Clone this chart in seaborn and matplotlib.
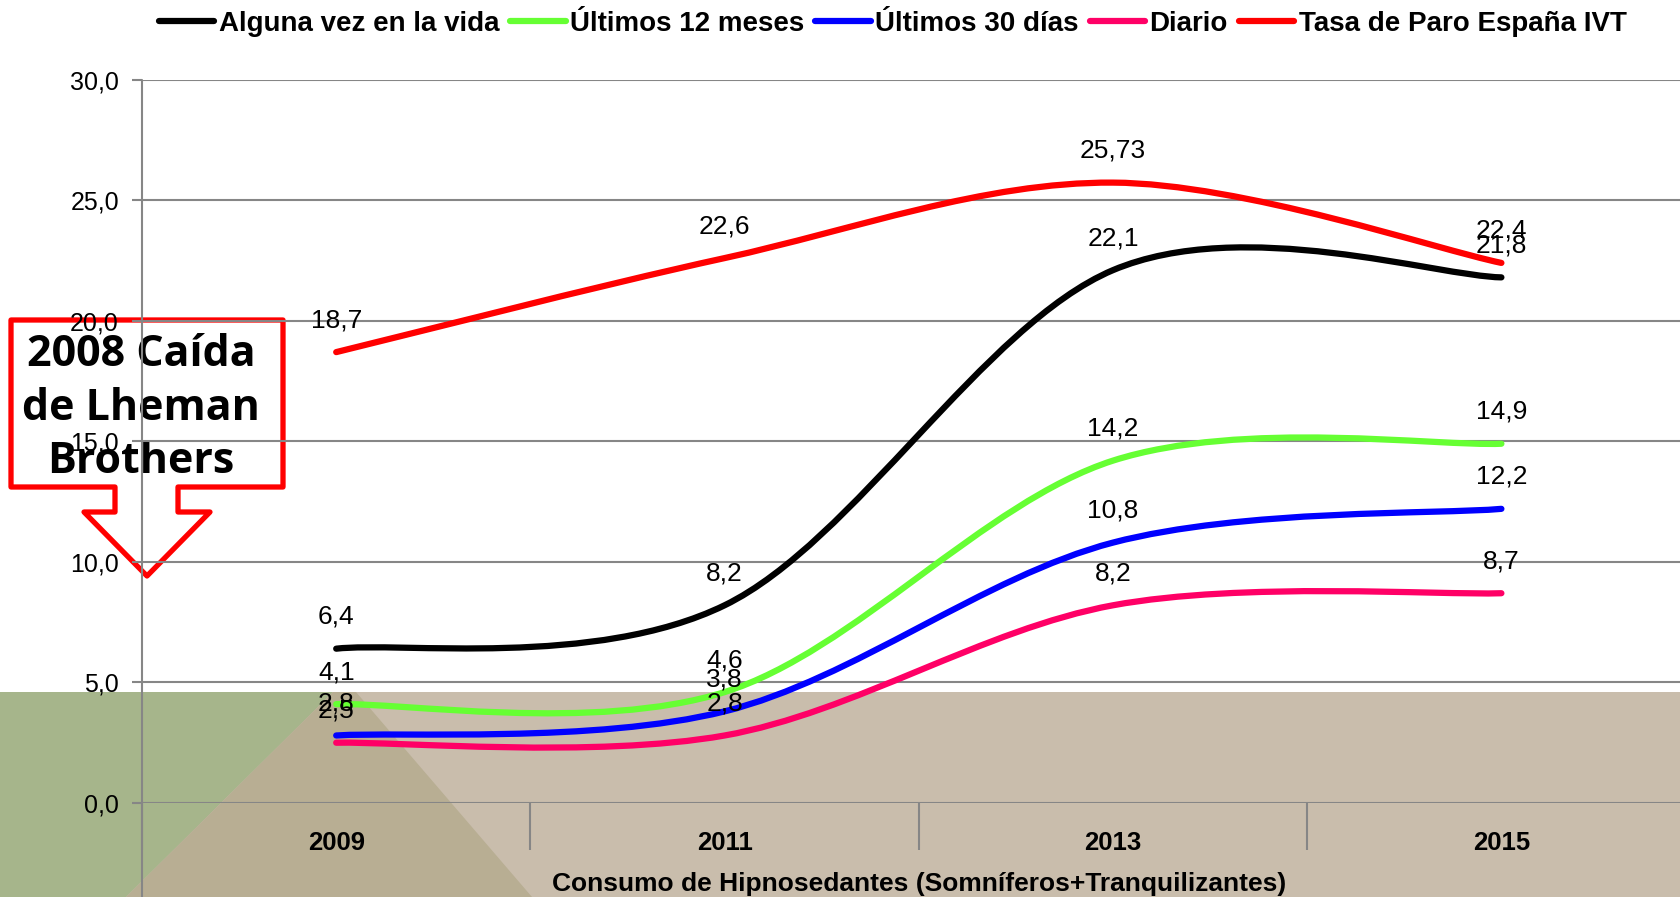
import numpy as np
import pandas as pd
import matplotlib
matplotlib.use("Agg")
import matplotlib.pyplot as plt
import seaborn as sns
from matplotlib.path import Path
from matplotlib.patches import PathPatch, Polygon
from matplotlib.lines import Line2D

# data
years = ["2009", "2011", "2013", "2015"]
alguna_vez = [6.4, 8.2, 22.1, 21.8]
ultimos_12 = [4.1, 4.6, 14.2, 14.9]
ultimos_30 = [2.8, 3.8, 10.8, 12.2]
diario = [2.5, 2.8, 8.2, 8.7]
tasa_paro = [18.7, 22.6, 25.73, 22.4]

series_names = ["Alguna vez en la vida", "Últimos 12 meses", "Últimos 30 días",
                "Diario", "Tasa de Paro España IVT"]
series_values = [alguna_vez, ultimos_12, ultimos_30, diario, tasa_paro]
series_colors = ["#000000", "#66FF33", "#0000FF", "#FF0066", "#FF0000"]

y_ticks = [0, 5, 10, 15, 20, 25, 30]
y_tick_labels = ["0,0", "5,0", "10,0", "15,0", "20,0", "25,0", "30,0"]
x_title = "Consumo de Hipnosedantes (Somníferos+Tranquilizantes)"
callout_text = "2008 Caída\nde Lheman\nBrothers"

W, H = 1681, 897
GRID = "#868686"


def smooth_path(xs, ys):
    """Excel-like smoothed line: cubic Bezier through the points."""
    verts = [(xs[0], ys[0])]
    codes = [Path.MOVETO]
    n = len(xs)
    for i in range(n - 1):
        i0 = max(i - 1, 0)
        i3 = min(i + 2, n - 1)
        c1 = (xs[i] + (xs[i + 1] - xs[i0]) / 6, ys[i] + (ys[i + 1] - ys[i0]) / 6)
        c2 = (xs[i + 1] - (xs[i3] - xs[i]) / 6, ys[i + 1] - (ys[i3] - ys[i]) / 6)
        verts += [c1, c2, (xs[i + 1], ys[i + 1])]
        codes += [Path.CURVE4] * 3
    return Path(verts, codes)


sns.set_theme(style="white", rc={"text.color": "black", "axes.labelcolor": "black",
                                 "xtick.color": "black", "ytick.color": "black"})
plt.rcParams["font.family"] = ["Liberation Sans", "DejaVu Sans"]

fig = plt.figure(figsize=(W / 100, H / 100), dpi=100)

# background layer in figure pixels (band, callout, y axis line)
bg = fig.add_axes([0, 0, 1, 1], zorder=0)
bg.set_xlim(0, W)
bg.set_ylim(H, 0)
bg.axis("off")
bg.add_patch(Polygon([(0, 692), (W, 692), (W, H), (0, H)], closed=True,
                     facecolor="#C9BDAC", edgecolor="none", zorder=1))
bg.add_patch(Polygon([(0, 692), (333, 692), (126, H), (0, H)], closed=True,
                     facecolor="#A6B58B", edgecolor="none", zorder=1))
bg.add_patch(Polygon([(333, 692), (356, 692), (532, H), (126, H)], closed=True,
                     facecolor="#B8AE93", edgecolor="none", zorder=1))

callout = [(11, 320), (283, 320), (283, 487), (178, 487), (178, 512), (210, 512),
           (147, 576), (84, 512), (115, 512), (115, 487), (11, 487)]
bg.add_patch(Polygon(callout, closed=True, facecolor="white", edgecolor="#FF0000",
                     linewidth=3.8, joinstyle="round", zorder=2))
bg.text(141, 408, callout_text, ha="center", va="center", fontsize=31,
        fontweight="bold", family=["Open Sans", "DejaVu Sans"],
        linespacing=1.33, color="black", zorder=3)
bg.plot([142, 142], [80, H], color=GRID, linewidth=1.5, zorder=4)

# main chart
ax = fig.add_axes([142 / W, 94 / H, 1553.6 / W, 0.8064], zorder=1)
ax.set_facecolor("none")
pos = np.arange(len(years))
ax.set_xlim(-0.5, len(years) - 0.5)
ax.set_ylim(0, 30)

for name, vals, col in zip(series_names, series_values, series_colors):
    ax.add_patch(PathPatch(smooth_path(pos, vals), facecolor="none", edgecolor=col,
                           linewidth=4.5, capstyle="round", joinstyle="round",
                           zorder=3))
    for x, v in zip(pos, vals):
        ax.annotate(str(v).replace(".", ","), (x, v), xytext=(0, 32),
                    textcoords="offset pixels", ha="center", va="center",
                    fontsize=19, color="black", zorder=5)

ax.set_yticks(y_ticks)
ax.set_yticklabels(y_tick_labels, fontsize=18)
ax.yaxis.grid(True, color=GRID, linewidth=1.5)
ax.tick_params(axis="y", length=7.2, width=1.5, color=GRID, labelcolor="black",
               pad=9.4, left=True)

ax.set_xticks(pos)
ax.set_xticklabels(years, fontsize=18.5, fontweight="bold")
ax.set_xticks(np.arange(len(years) + 1) - 0.5, minor=True)
ax.tick_params(axis="x", which="major", length=0, pad=20, labelcolor="black")
ax.tick_params(axis="x", which="minor", length=34, width=1.5, color=GRID,
               bottom=True)
ax.set_xlabel(x_title, fontsize=19, fontweight="bold", labelpad=12)

sns.despine(ax=ax, left=True, top=True, right=True, bottom=True)

handles = [Line2D([0], [0], color=c, linewidth=4.5, solid_capstyle="round")
           for c in series_colors]
fig.legend(handles, series_names, loc="center", bbox_to_anchor=(0.531, 1 - 24 / H),
           ncol=5, frameon=False, prop={"weight": "bold", "size": 20},
           handlelength=2.0, handletextpad=0.15, columnspacing=0.4)

fig.savefig("out.png", dpi=100)
